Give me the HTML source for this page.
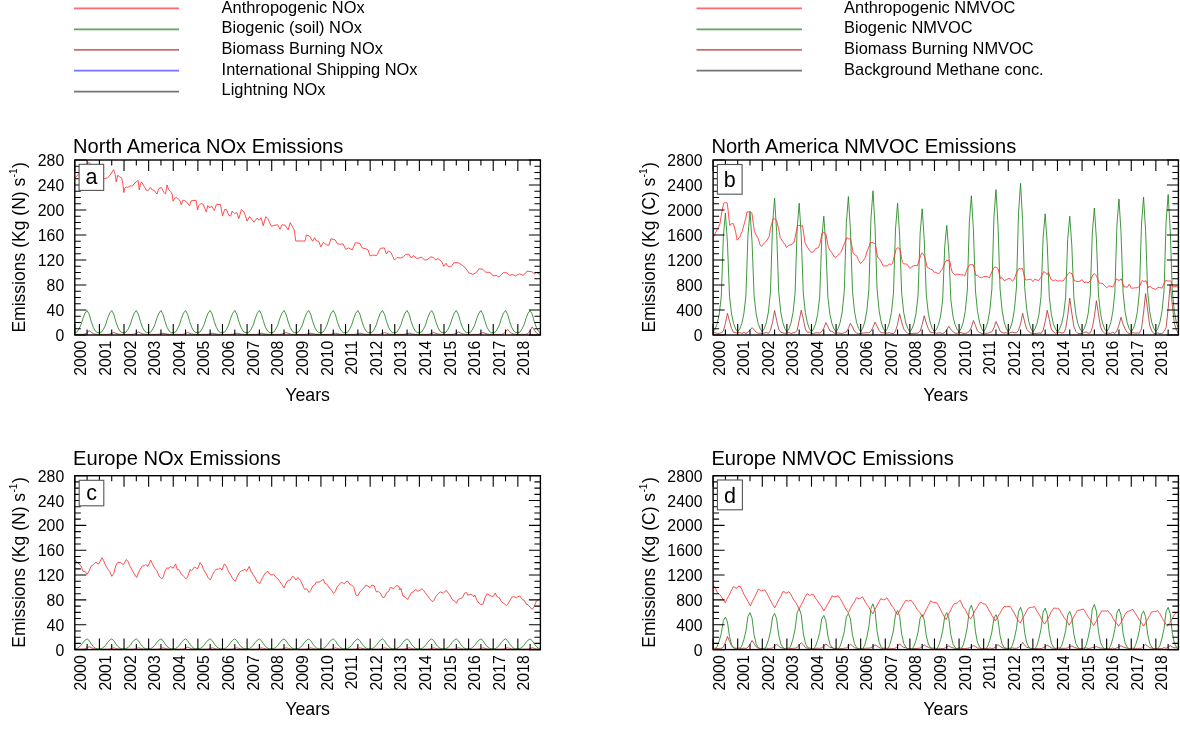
<!DOCTYPE html>
<html><head><meta charset="utf-8"><title>Emissions</title>
<style>
html,body{margin:0;padding:0;background:#fff;}
body{width:1180px;height:730px;overflow:hidden;}
svg{display:block;}
#wrap{width:1180px;height:730px;}
text{font-family:"Liberation Sans", Arial, Helvetica, sans-serif;fill:#000;}
.leg{font-size:16.4px;}
.ttl{font-size:20.1px;}
.tl{font-size:15.8px;}
.ax{font-size:17.8px;}
.sup{font-size:10px;}
.yl{font-size:17.55px;}
.let{font-size:21.5px;}
</style></head>
<body>
<div id="wrap"><svg width="1180" height="730" viewBox="0 0 1180 730">
<defs><clipPath id="clipa"><rect x="74.8" y="160.0" width="465.59999999999997" height="175.0"/></clipPath><clipPath id="clipb"><rect x="713.1" y="160.0" width="465.30000000000007" height="175.0"/></clipPath><clipPath id="clipc"><rect x="74.8" y="475.7" width="465.59999999999997" height="173.90000000000003"/></clipPath><clipPath id="clipd"><rect x="713.1" y="475.7" width="465.30000000000007" height="173.90000000000003"/></clipPath></defs>
<rect width="1180" height="730" fill="#fff"/>
<line x1="74" y1="8.4" x2="179" y2="8.4" stroke="#ff3030" stroke-width="1.7" opacity="0.72"/>
<text x="221.6" y="12.6" class="leg">Anthropogenic NOx</text>
<line x1="74" y1="29.3" x2="179" y2="29.3" stroke="#1f861f" stroke-width="1.7" opacity="0.72"/>
<text x="221.6" y="33.4" class="leg">Biogenic (soil) NOx</text>
<line x1="74" y1="49.9" x2="179" y2="49.9" stroke="#b03838" stroke-width="1.7" opacity="0.72"/>
<text x="221.6" y="53.8" class="leg">Biomass Burning NOx</text>
<line x1="74" y1="70.6" x2="179" y2="70.6" stroke="#3c3cff" stroke-width="1.7" opacity="0.72"/>
<text x="221.6" y="74.5" class="leg">International Shipping NOx</text>
<line x1="74" y1="91.7" x2="179" y2="91.7" stroke="#404040" stroke-width="1.7" opacity="0.72"/>
<text x="221.6" y="95.0" class="leg">Lightning NOx</text>
<line x1="696.5" y1="8.4" x2="802" y2="8.4" stroke="#ff3030" stroke-width="1.7" opacity="0.72"/>
<text x="844.1" y="12.6" class="leg">Anthropogenic NMVOC</text>
<line x1="696.5" y1="29.3" x2="802" y2="29.3" stroke="#1f861f" stroke-width="1.7" opacity="0.72"/>
<text x="844.1" y="33.4" class="leg">Biogenic NMVOC</text>
<line x1="696.5" y1="49.9" x2="802" y2="49.9" stroke="#b03838" stroke-width="1.7" opacity="0.72"/>
<text x="844.1" y="53.8" class="leg">Biomass Burning NMVOC</text>
<line x1="696.5" y1="70.6" x2="802" y2="70.6" stroke="#404040" stroke-width="1.7" opacity="0.72"/>
<text x="844.1" y="74.5" class="leg">Background Methane conc.</text>
<g clip-path="url(#clipa)">
<polyline points="74.80,334.38 76.85,334.38 78.90,334.38 80.95,334.38 83.00,334.38 85.06,333.93 87.11,332.50 89.16,330.62 91.21,332.12 93.26,333.62 95.31,334.19 97.36,334.38 99.41,334.38 101.46,334.38 103.52,334.38 105.57,334.38 107.62,334.38 109.67,334.15 111.72,333.44 113.77,332.50 115.82,333.25 117.87,334.00 119.92,334.28 121.98,334.38 124.03,334.38 126.08,334.38 128.13,334.38 130.18,334.38 132.23,334.38 134.28,334.07 136.33,333.12 138.38,331.88 140.44,332.88 142.49,333.88 144.54,334.25 146.59,334.38 148.64,334.38 150.69,334.38 152.74,334.38 154.79,334.38 156.84,334.38 158.90,334.23 160.95,333.75 163.00,333.12 165.05,333.62 167.10,334.12 169.15,334.31 171.20,334.38 173.25,334.38 175.30,334.38 177.36,334.38 179.41,334.38 181.46,334.38 183.51,334.15 185.56,333.44 187.61,332.50 189.66,333.25 191.71,334.00 193.76,334.28 195.81,334.38 197.87,334.38 199.92,334.38 201.97,334.38 204.02,334.38 206.07,334.38 208.12,334.23 210.17,333.75 212.22,333.12 214.27,333.62 216.33,334.12 218.38,334.31 220.43,334.38 222.48,334.38 224.53,334.38 226.58,334.38 228.63,334.38 230.68,334.38 232.73,334.23 234.79,333.75 236.84,333.12 238.89,333.62 240.94,334.12 242.99,334.31 245.04,334.38 247.09,334.38 249.14,334.38 251.19,334.38 253.25,334.38 255.30,334.38 257.35,334.23 259.40,333.75 261.45,333.12 263.50,333.62 265.55,334.12 267.60,334.31 269.65,334.38 271.71,334.38 273.76,334.38 275.81,334.38 277.86,334.38 279.91,334.38 281.96,334.15 284.01,333.44 286.06,332.50 288.11,333.25 290.17,334.00 292.22,334.28 294.27,334.38 296.32,334.38 298.37,334.38 300.42,334.38 302.47,334.38 304.52,334.38 306.57,334.23 308.63,333.75 310.68,333.12 312.73,333.62 314.78,334.12 316.83,334.31 318.88,334.38 320.93,334.38 322.98,334.38 325.03,334.38 327.09,334.38 329.14,334.38 331.19,334.23 333.24,333.75 335.29,333.12 337.34,333.62 339.39,334.12 341.44,334.31 343.49,334.38 345.55,334.38 347.60,334.38 349.65,334.38 351.70,334.38 353.75,334.38 355.80,334.23 357.85,333.75 359.90,333.12 361.95,333.62 364.01,334.12 366.06,334.31 368.11,334.38 370.16,334.38 372.21,334.38 374.26,334.38 376.31,334.38 378.36,334.38 380.41,334.15 382.47,333.44 384.52,332.50 386.57,333.25 388.62,334.00 390.67,334.28 392.72,334.38 394.77,334.38 396.82,334.38 398.87,334.38 400.93,334.38 402.98,334.38 405.03,334.23 407.08,333.75 409.13,333.12 411.18,333.62 413.23,334.12 415.28,334.31 417.33,334.38 419.39,334.38 421.44,334.38 423.49,334.38 425.54,334.38 427.59,334.38 429.64,334.15 431.69,333.44 433.74,332.50 435.79,333.25 437.84,334.00 439.90,334.28 441.95,334.38 444.00,334.38 446.05,334.38 448.10,334.38 450.15,334.38 452.20,334.38 454.25,334.07 456.30,333.12 458.36,331.88 460.41,332.88 462.46,333.88 464.51,334.25 466.56,334.38 468.61,334.38 470.66,334.38 472.71,334.38 474.76,334.38 476.82,334.38 478.87,334.15 480.92,333.44 482.97,332.50 485.02,333.25 487.07,334.00 489.12,334.28 491.17,334.38 493.22,334.38 495.28,334.38 497.33,334.38 499.38,334.38 501.43,334.38 503.48,333.77 505.53,331.88 507.58,329.38 509.63,331.38 511.68,333.38 513.74,334.12 515.79,334.38 517.84,334.38 519.89,334.38 521.94,334.38 523.99,334.38 526.04,334.38 528.09,333.48 530.14,330.62 532.20,326.88 534.25,329.88 536.30,332.88 538.35,334.00 540.40,334.38" fill="none" stroke="#b03838" stroke-width="1.0" stroke-linejoin="round" opacity="0.85"/>
<polyline points="74.80,332.62 76.85,332.18 78.90,329.08 80.95,324.88 83.00,318.24 85.06,313.15 87.11,310.50 89.16,314.26 91.21,321.56 93.26,327.31 95.31,331.08 97.36,332.62 99.41,332.62 101.46,332.18 103.52,329.08 105.57,324.88 107.62,318.24 109.67,313.15 111.72,310.50 113.77,314.26 115.82,321.56 117.87,327.31 119.92,331.08 121.98,332.62 124.03,332.62 126.08,332.18 128.13,329.08 130.18,324.88 132.23,318.24 134.28,313.15 136.33,310.50 138.38,314.26 140.44,321.56 142.49,327.31 144.54,331.08 146.59,332.62 148.64,332.62 150.69,332.18 152.74,329.08 154.79,324.88 156.84,318.24 158.90,313.15 160.95,310.50 163.00,314.26 165.05,321.56 167.10,327.31 169.15,331.08 171.20,332.62 173.25,332.62 175.30,332.18 177.36,329.08 179.41,324.88 181.46,318.24 183.51,313.15 185.56,310.50 187.61,314.26 189.66,321.56 191.71,327.31 193.76,331.08 195.81,332.62 197.87,332.62 199.92,332.18 201.97,329.08 204.02,324.88 206.07,318.24 208.12,313.15 210.17,310.50 212.22,314.26 214.27,321.56 216.33,327.31 218.38,331.08 220.43,332.62 222.48,332.62 224.53,332.18 226.58,329.08 228.63,324.88 230.68,318.24 232.73,313.15 234.79,310.50 236.84,314.26 238.89,321.56 240.94,327.31 242.99,331.08 245.04,332.62 247.09,332.62 249.14,332.18 251.19,329.08 253.25,324.88 255.30,318.24 257.35,313.15 259.40,310.50 261.45,314.26 263.50,321.56 265.55,327.31 267.60,331.08 269.65,332.62 271.71,332.62 273.76,332.18 275.81,329.08 277.86,324.88 279.91,318.24 281.96,313.15 284.01,310.50 286.06,314.26 288.11,321.56 290.17,327.31 292.22,331.08 294.27,332.62 296.32,332.62 298.37,332.18 300.42,329.08 302.47,324.88 304.52,318.24 306.57,313.15 308.63,310.50 310.68,314.26 312.73,321.56 314.78,327.31 316.83,331.08 318.88,332.62 320.93,332.62 322.98,332.18 325.03,329.08 327.09,324.88 329.14,318.24 331.19,313.15 333.24,310.50 335.29,314.26 337.34,321.56 339.39,327.31 341.44,331.08 343.49,332.62 345.55,332.62 347.60,332.18 349.65,329.08 351.70,324.88 353.75,318.24 355.80,313.15 357.85,310.50 359.90,314.26 361.95,321.56 364.01,327.31 366.06,331.08 368.11,332.62 370.16,332.62 372.21,332.18 374.26,329.08 376.31,324.88 378.36,318.24 380.41,313.15 382.47,310.50 384.52,314.26 386.57,321.56 388.62,327.31 390.67,331.08 392.72,332.62 394.77,332.62 396.82,332.18 398.87,329.08 400.93,324.88 402.98,318.24 405.03,313.15 407.08,310.50 409.13,314.26 411.18,321.56 413.23,327.31 415.28,331.08 417.33,332.62 419.39,332.62 421.44,332.18 423.49,329.08 425.54,324.88 427.59,318.24 429.64,313.15 431.69,310.50 433.74,314.26 435.79,321.56 437.84,327.31 439.90,331.08 441.95,332.62 444.00,332.62 446.05,332.18 448.10,329.08 450.15,324.88 452.20,318.24 454.25,313.15 456.30,310.50 458.36,314.26 460.41,321.56 462.46,327.31 464.51,331.08 466.56,332.62 468.61,332.62 470.66,332.18 472.71,329.08 474.76,324.88 476.82,318.24 478.87,313.15 480.92,310.50 482.97,314.26 485.02,321.56 487.07,327.31 489.12,331.08 491.17,332.62 493.22,332.62 495.28,332.18 497.33,329.08 499.38,324.88 501.43,318.24 503.48,313.15 505.53,310.50 507.58,314.26 509.63,321.56 511.68,327.31 513.74,331.08 515.79,332.62 517.84,332.62 519.89,332.18 521.94,329.08 523.99,324.88 526.04,318.24 528.09,313.15 530.14,310.50 532.20,314.26 534.25,321.56 536.30,327.31 538.35,331.08 540.40,332.62" fill="none" stroke="#1f861f" stroke-width="1.0" stroke-linejoin="round" opacity="0.85"/>
<polyline points="75.00,177.81 79.10,173.75 88.90,162.25 104.00,178.81 107.50,177.81 110.10,175.25 113.60,169.69 115.20,174.25 116.20,181.88 117.70,175.25 119.70,176.75 121.80,178.31 122.80,183.38 123.80,192.56 124.80,187.94 126.40,186.94 127.90,187.44 129.90,185.94 132.50,185.94 134.00,183.88 138.10,180.31 139.30,190.00 140.60,183.38 141.60,181.88 144.20,186.44 146.20,190.00 148.20,190.50 150.30,187.44 152.30,190.00 154.30,190.50 156.90,194.06 158.90,188.50 161.40,187.44 164.00,192.56 165.50,194.06 167.00,184.94 168.60,189.50 170.60,191.50 172.10,194.06 173.10,201.19 174.70,198.12 176.70,197.62 179.70,200.19 181.30,204.75 182.80,200.19 184.80,200.69 186.90,202.19 189.40,205.75 191.40,200.69 196.10,200.31 197.60,210.00 198.60,205.94 201.20,203.19 203.20,204.44 206.30,212.06 207.80,205.44 209.80,207.94 211.40,205.94 214.40,210.50 216.40,204.44 220.50,204.44 222.50,216.12 224.60,209.50 226.60,209.50 228.60,215.06 230.70,216.12 232.20,211.00 234.70,213.56 236.80,212.56 238.80,218.62 241.40,209.50 243.90,212.06 245.40,215.62 247.00,221.19 249.50,216.62 254.10,222.19 257.10,218.12 259.20,220.19 261.20,217.62 263.20,225.75 265.80,216.62 267.80,218.62 271.40,226.25 274.90,225.25 277.50,224.75 280.00,229.31 282.00,224.75 285.10,225.25 288.10,229.81 290.20,222.69 294.20,229.81 295.80,241.00 303.90,241.00 305.00,241.25 306.40,234.94 309.60,236.19 312.60,241.25 314.70,237.69 316.20,240.75 318.70,241.25 320.80,246.88 323.30,242.31 326.40,244.81 328.90,245.31 330.90,238.75 335.00,239.75 337.50,243.81 340.10,244.31 343.10,243.81 345.70,249.44 348.70,247.88 352.30,249.94 355.30,242.81 359.90,243.31 362.00,247.88 366.00,248.88 368.10,249.94 370.10,256.00 372.60,255.00 376.70,255.50 380.30,248.38 384.30,247.88 386.40,254.00 388.40,250.94 390.90,252.44 394.50,260.06 397.00,257.56 400.10,258.06 403.10,257.06 405.70,254.50 408.70,254.00 411.30,258.06 413.30,255.50 416.90,258.56 421.60,257.19 424.80,260.06 427.40,259.56 430.60,256.88 433.20,257.44 435.90,260.06 438.00,258.50 441.70,261.62 443.80,266.44 446.00,263.25 447.50,265.88 450.20,266.94 451.80,265.88 453.90,262.69 458.10,262.69 462.40,265.38 464.50,266.94 467.10,270.12 468.70,272.75 473.00,274.38 476.70,272.25 478.80,268.88 482.50,269.06 485.70,272.25 488.90,272.25 491.00,273.31 493.10,275.94 496.30,275.44 498.90,277.00 503.20,272.75 506.90,272.75 509.50,275.44 512.20,274.38 515.30,275.94 519.60,273.81 523.30,275.44 527.00,271.19 531.80,271.69 534.40,273.81 536.50,272.75 540.80,274.56" fill="none" stroke="#ff3030" stroke-width="1.0" stroke-linejoin="round" opacity="0.85"/>
</g>
<path d="M74.80,335.0v-11M74.80,160.0v11M87.11,335.0v-5.5M87.11,160.0v5.5M99.41,335.0v-11M99.41,160.0v11M111.72,335.0v-5.5M111.72,160.0v5.5M124.03,335.0v-11M124.03,160.0v11M136.33,335.0v-5.5M136.33,160.0v5.5M148.64,335.0v-11M148.64,160.0v11M160.95,335.0v-5.5M160.95,160.0v5.5M173.25,335.0v-11M173.25,160.0v11M185.56,335.0v-5.5M185.56,160.0v5.5M197.87,335.0v-11M197.87,160.0v11M210.17,335.0v-5.5M210.17,160.0v5.5M222.48,335.0v-11M222.48,160.0v11M234.79,335.0v-5.5M234.79,160.0v5.5M247.09,335.0v-11M247.09,160.0v11M259.40,335.0v-5.5M259.40,160.0v5.5M271.71,335.0v-11M271.71,160.0v11M284.01,335.0v-5.5M284.01,160.0v5.5M296.32,335.0v-11M296.32,160.0v11M308.63,335.0v-5.5M308.63,160.0v5.5M320.93,335.0v-11M320.93,160.0v11M333.24,335.0v-5.5M333.24,160.0v5.5M345.55,335.0v-11M345.55,160.0v11M357.85,335.0v-5.5M357.85,160.0v5.5M370.16,335.0v-11M370.16,160.0v11M382.47,335.0v-5.5M382.47,160.0v5.5M394.77,335.0v-11M394.77,160.0v11M407.08,335.0v-5.5M407.08,160.0v5.5M419.39,335.0v-11M419.39,160.0v11M431.69,335.0v-5.5M431.69,160.0v5.5M444.00,335.0v-11M444.00,160.0v11M456.30,335.0v-5.5M456.30,160.0v5.5M468.61,335.0v-11M468.61,160.0v11M480.92,335.0v-5.5M480.92,160.0v5.5M493.22,335.0v-11M493.22,160.0v11M505.53,335.0v-5.5M505.53,160.0v5.5M517.84,335.0v-11M517.84,160.0v11M530.14,335.0v-5.5M530.14,160.0v5.5M74.8,335.00h11.5M540.4,335.00h-11.5M74.8,328.75h6M540.4,328.75h-6M74.8,322.50h6M540.4,322.50h-6M74.8,316.25h6M540.4,316.25h-6M74.8,310.00h11.5M540.4,310.00h-11.5M74.8,303.75h6M540.4,303.75h-6M74.8,297.50h6M540.4,297.50h-6M74.8,291.25h6M540.4,291.25h-6M74.8,285.00h11.5M540.4,285.00h-11.5M74.8,278.75h6M540.4,278.75h-6M74.8,272.50h6M540.4,272.50h-6M74.8,266.25h6M540.4,266.25h-6M74.8,260.00h11.5M540.4,260.00h-11.5M74.8,253.75h6M540.4,253.75h-6M74.8,247.50h6M540.4,247.50h-6M74.8,241.25h6M540.4,241.25h-6M74.8,235.00h11.5M540.4,235.00h-11.5M74.8,228.75h6M540.4,228.75h-6M74.8,222.50h6M540.4,222.50h-6M74.8,216.25h6M540.4,216.25h-6M74.8,210.00h11.5M540.4,210.00h-11.5M74.8,203.75h6M540.4,203.75h-6M74.8,197.50h6M540.4,197.50h-6M74.8,191.25h6M540.4,191.25h-6M74.8,185.00h11.5M540.4,185.00h-11.5M74.8,178.75h6M540.4,178.75h-6M74.8,172.50h6M540.4,172.50h-6M74.8,166.25h6M540.4,166.25h-6M74.8,160.00h11.5M540.4,160.00h-11.5" stroke="#000" stroke-width="1.1" fill="none"/>
<rect x="74.8" y="160.0" width="465.59999999999997" height="175.0" fill="none" stroke="#000" stroke-width="1.4"/>
<rect x="79.1" y="164.3" width="24.60" height="26.10" fill="#fff" stroke="#555" stroke-width="1.1"/>
<text x="91.40" y="183.8" class="let" text-anchor="middle">a</text>
<text x="73.10" y="153.4" class="ttl">North America NOx Emissions</text>
<text x="64.20" y="341.00" class="tl" text-anchor="end">0</text>
<text x="64.20" y="316.00" class="tl" text-anchor="end">40</text>
<text x="64.20" y="291.00" class="tl" text-anchor="end">80</text>
<text x="64.20" y="266.00" class="tl" text-anchor="end">120</text>
<text x="64.20" y="241.00" class="tl" text-anchor="end">160</text>
<text x="64.20" y="216.00" class="tl" text-anchor="end">200</text>
<text x="64.20" y="191.00" class="tl" text-anchor="end">240</text>
<text x="64.20" y="166.00" class="tl" text-anchor="end">280</text>
<text transform="translate(86.40,340.70) rotate(-90)" class="tl" text-anchor="end">2000</text>
<text transform="translate(111.01,340.70) rotate(-90)" class="tl" text-anchor="end">2001</text>
<text transform="translate(135.63,340.70) rotate(-90)" class="tl" text-anchor="end">2002</text>
<text transform="translate(160.24,340.70) rotate(-90)" class="tl" text-anchor="end">2003</text>
<text transform="translate(184.85,340.70) rotate(-90)" class="tl" text-anchor="end">2004</text>
<text transform="translate(209.47,340.70) rotate(-90)" class="tl" text-anchor="end">2005</text>
<text transform="translate(234.08,340.70) rotate(-90)" class="tl" text-anchor="end">2006</text>
<text transform="translate(258.69,340.70) rotate(-90)" class="tl" text-anchor="end">2007</text>
<text transform="translate(283.31,340.70) rotate(-90)" class="tl" text-anchor="end">2008</text>
<text transform="translate(307.92,340.70) rotate(-90)" class="tl" text-anchor="end">2009</text>
<text transform="translate(332.53,340.70) rotate(-90)" class="tl" text-anchor="end">2010</text>
<text transform="translate(357.15,340.70) rotate(-90)" class="tl" text-anchor="end">2011</text>
<text transform="translate(381.76,340.70) rotate(-90)" class="tl" text-anchor="end">2012</text>
<text transform="translate(406.37,340.70) rotate(-90)" class="tl" text-anchor="end">2013</text>
<text transform="translate(430.99,340.70) rotate(-90)" class="tl" text-anchor="end">2014</text>
<text transform="translate(455.60,340.70) rotate(-90)" class="tl" text-anchor="end">2015</text>
<text transform="translate(480.21,340.70) rotate(-90)" class="tl" text-anchor="end">2016</text>
<text transform="translate(504.82,340.70) rotate(-90)" class="tl" text-anchor="end">2017</text>
<text transform="translate(529.44,340.70) rotate(-90)" class="tl" text-anchor="end">2018</text>
<text x="307.60" y="400.60" class="ax" text-anchor="middle">Years</text>
<text transform="translate(25.20,247.35) rotate(-90)" class="ax yl" text-anchor="middle">Emissions (Kg (N) s<tspan class="sup" dx="0.3" dy="-8.5">-1</tspan><tspan dx="0.6" dy="8.5">)</tspan></text>
<g clip-path="url(#clipb)">
<polyline points="713.10,333.02 715.15,332.63 717.20,333.44 719.25,333.31 721.30,332.77 723.35,331.18 725.40,323.37 727.45,313.35 729.50,321.25 731.55,328.46 733.60,332.44 735.65,332.70 737.70,332.91 739.75,332.42 741.80,333.47 743.85,332.33 745.90,333.56 747.95,332.08 750.00,330.34 752.05,327.63 754.10,329.72 756.15,332.08 758.20,333.30 760.24,333.18 762.29,333.32 764.34,333.00 766.39,332.39 768.44,333.43 770.49,330.23 772.54,322.43 774.59,310.53 776.64,320.33 778.69,329.17 780.74,332.29 782.79,332.84 784.84,333.33 786.89,332.81 788.94,332.61 790.99,333.46 793.04,332.79 795.09,332.75 797.14,330.31 799.19,320.56 801.24,310.30 803.29,318.92 805.34,328.98 807.39,332.44 809.44,332.13 811.49,333.45 813.54,333.43 815.59,332.90 817.64,332.74 819.69,333.07 821.74,331.56 823.79,328.22 825.84,322.68 827.89,326.35 829.94,331.14 831.99,331.29 834.04,333.14 836.09,332.99 838.14,332.99 840.19,333.17 842.24,333.57 844.29,332.61 846.34,332.09 848.39,328.33 850.44,323.30 852.49,326.98 854.53,331.29 856.58,333.00 858.63,333.44 860.68,333.55 862.73,332.98 864.78,332.95 866.83,332.65 868.88,332.72 870.93,331.31 872.98,327.27 875.03,322.10 877.08,326.15 879.13,330.52 881.18,332.75 883.23,332.83 885.28,332.67 887.33,333.16 889.38,332.73 891.43,333.38 893.48,333.62 895.53,331.04 897.58,324.21 899.63,313.87 901.68,321.99 903.73,328.93 905.78,331.31 907.83,333.47 909.88,333.36 911.93,333.43 913.98,333.28 916.03,333.27 918.08,333.08 920.13,331.14 922.18,324.75 924.23,315.84 926.28,323.05 928.33,328.70 930.38,332.39 932.43,332.44 934.48,332.32 936.53,333.36 938.58,332.92 940.63,332.94 942.68,333.61 944.73,332.37 946.77,329.84 948.82,326.25 950.87,329.61 952.92,331.50 954.97,333.05 957.02,333.31 959.07,332.22 961.12,332.71 963.17,333.43 965.22,333.40 967.27,332.83 969.32,331.32 971.37,327.21 973.42,320.49 975.47,325.54 977.52,331.02 979.57,332.44 981.62,333.40 983.67,332.97 985.72,333.28 987.77,333.26 989.82,332.26 991.87,331.78 993.92,327.78 995.97,321.59 998.02,326.04 1000.07,331.07 1002.12,332.46 1004.17,333.15 1006.22,332.46 1008.27,333.62 1010.32,332.53 1012.37,332.16 1014.42,332.81 1016.47,332.83 1018.52,330.32 1020.57,324.13 1022.62,313.33 1024.67,321.95 1026.72,329.46 1028.77,331.48 1030.82,333.03 1032.87,333.43 1034.92,333.42 1036.97,333.34 1039.01,332.94 1041.06,333.46 1043.11,330.10 1045.16,321.84 1047.21,310.30 1049.26,319.19 1051.31,329.01 1053.36,331.96 1055.41,333.15 1057.46,332.37 1059.51,332.16 1061.56,332.94 1063.61,332.89 1065.66,328.89 1067.71,315.74 1069.76,298.08 1071.81,312.96 1073.86,326.58 1075.91,331.45 1077.96,333.53 1080.01,333.45 1082.06,333.58 1084.11,332.24 1086.16,332.01 1088.21,333.23 1090.26,332.93 1092.31,327.71 1094.36,316.64 1096.41,300.69 1098.46,314.10 1100.51,326.76 1102.56,331.23 1104.61,333.33 1106.66,332.97 1108.71,333.25 1110.76,333.44 1112.81,332.22 1114.86,333.61 1116.91,330.79 1118.96,325.22 1121.01,317.29 1123.06,324.07 1125.11,329.00 1127.16,332.43 1129.21,333.62 1131.26,332.73 1133.30,332.86 1135.35,333.12 1137.40,333.03 1139.45,333.10 1141.50,328.83 1143.55,312.92 1145.60,293.58 1147.65,309.73 1149.70,325.63 1151.75,330.83 1153.80,333.52 1155.85,333.55 1157.90,332.98 1159.95,333.62 1162.00,333.56 1164.05,331.54 1166.10,327.71 1168.15,308.61 1170.20,284.51 1172.25,304.61 1174.30,323.12 1176.35,329.59 1178.40,333.55" fill="none" stroke="#b03838" stroke-width="1.0" stroke-linejoin="round" opacity="0.85"/>
<polyline points="713.10,331.88 715.15,328.90 717.20,323.55 719.25,314.04 721.30,296.21 723.35,236.78 725.40,213.00 727.45,242.72 729.50,296.21 731.55,314.04 733.60,323.55 735.65,328.90 737.70,331.88 739.75,328.87 741.80,323.47 743.85,313.87 745.90,295.86 747.95,235.82 750.00,211.81 752.05,241.83 754.10,295.86 756.15,313.87 758.20,323.47 760.24,328.87 762.29,331.88 764.34,328.53 766.39,322.52 768.44,311.82 770.49,291.77 772.54,224.93 774.59,198.19 776.64,231.61 778.69,291.77 780.74,311.82 782.79,322.52 784.84,328.53 786.89,331.88 788.94,328.66 790.99,322.87 793.04,312.57 795.09,293.27 797.14,228.93 799.19,203.19 801.24,235.36 803.29,293.27 805.34,312.57 807.39,322.87 809.44,328.66 811.49,331.88 813.54,328.98 815.59,323.78 817.64,314.52 819.69,297.17 821.74,239.32 823.79,216.19 825.84,245.11 827.89,297.17 829.94,314.52 831.99,323.78 834.04,328.98 836.09,331.88 838.14,328.49 840.19,322.40 842.24,311.57 844.29,291.26 846.34,223.57 848.39,196.50 850.44,230.34 852.49,291.26 854.53,311.57 856.58,322.40 858.63,328.49 860.68,331.88 862.73,328.35 864.78,322.00 866.83,310.72 868.88,289.56 870.93,219.03 872.98,190.81 875.03,226.08 877.08,289.56 879.13,310.72 881.18,322.00 883.23,328.35 885.28,331.88 887.33,328.66 889.38,322.87 891.43,312.57 893.48,293.27 895.53,228.93 897.58,203.19 899.63,235.36 901.68,293.27 903.73,312.57 905.78,322.87 907.83,328.66 909.88,331.88 911.93,328.80 913.98,323.26 916.03,313.42 918.08,294.96 920.13,233.43 922.18,208.81 924.23,239.58 926.28,294.96 928.33,313.42 930.38,323.26 932.43,328.80 934.48,331.88 936.53,329.21 938.58,324.42 940.63,315.90 942.68,299.93 944.73,246.68 946.77,225.38 948.82,252.00 950.87,299.93 952.92,315.90 954.97,324.42 957.02,329.21 959.07,331.88 961.12,328.47 963.17,322.35 965.22,311.47 967.27,291.06 969.32,223.03 971.37,195.81 973.42,229.83 975.47,291.06 977.52,311.47 979.57,322.35 981.62,328.47 983.67,331.88 985.72,328.32 987.77,321.92 989.82,310.54 991.87,289.20 993.92,218.07 995.97,189.62 998.02,225.19 1000.07,289.20 1002.12,310.54 1004.17,321.92 1006.22,328.32 1008.27,331.88 1010.32,328.16 1012.37,321.48 1014.42,309.60 1016.47,287.32 1018.52,213.07 1020.57,183.38 1022.62,220.50 1024.67,287.32 1026.72,309.60 1028.77,321.48 1030.82,328.16 1032.87,331.88 1034.92,328.92 1036.97,323.61 1039.01,314.17 1041.06,296.46 1043.11,237.43 1045.16,213.81 1047.21,243.33 1049.26,296.46 1051.31,314.17 1053.36,323.61 1055.41,328.92 1057.46,331.88 1059.51,328.98 1061.56,323.78 1063.61,314.53 1065.66,297.19 1067.71,239.38 1069.76,216.25 1071.81,245.16 1073.86,297.19 1075.91,314.53 1077.96,323.78 1080.01,328.98 1082.06,331.88 1084.11,328.78 1086.16,323.21 1088.21,313.31 1090.26,294.75 1092.31,232.88 1094.36,208.12 1096.41,239.06 1098.46,294.75 1100.51,313.31 1102.56,323.21 1104.61,328.78 1106.66,331.88 1108.71,328.55 1110.76,322.57 1112.81,311.94 1114.86,292.01 1116.91,225.57 1118.96,199.00 1121.01,232.22 1123.06,292.01 1125.11,311.94 1127.16,322.57 1129.21,328.55 1131.26,331.88 1133.30,328.50 1135.35,322.43 1137.40,311.64 1139.45,291.41 1141.50,223.97 1143.55,197.00 1145.60,230.72 1147.65,291.41 1149.70,311.64 1151.75,322.43 1153.80,328.50 1155.85,331.88 1157.90,328.44 1159.95,322.26 1162.00,311.27 1164.05,290.66 1166.10,221.97 1168.15,194.50 1170.20,228.84 1172.25,290.66 1174.30,311.27 1176.35,322.26 1178.40,328.44" fill="none" stroke="#1f861f" stroke-width="1.0" stroke-linejoin="round" opacity="0.85"/>
<polyline points="713.00,237.50 714.90,234.00 717.20,229.47 719.90,224.12 721.30,215.03 723.60,203.19 725.40,202.35 727.30,203.19 729.70,225.38 731.55,223.69 733.40,223.62 735.65,231.86 737.10,240.19 739.75,236.98 742.10,231.56 743.85,225.23 745.90,217.75 747.00,211.81 747.95,212.18 750.00,211.45 751.90,213.06 754.40,231.56 756.15,235.07 758.20,238.57 760.24,245.36 761.80,246.31 764.34,242.75 766.39,241.20 769.20,236.44 770.49,228.41 772.90,219.19 774.59,218.76 776.60,220.44 778.69,229.13 780.30,237.69 782.79,241.72 784.84,244.23 786.50,247.56 788.94,245.19 790.99,244.95 793.90,242.62 795.09,237.63 797.60,225.38 799.19,225.50 801.24,226.06 802.50,225.38 805.00,242.62 807.39,247.16 809.44,250.13 811.10,252.50 813.54,251.69 815.59,248.64 818.50,247.56 819.69,244.60 822.20,232.75 823.79,232.36 825.90,234.00 828.40,247.56 829.94,250.32 831.99,252.96 834.04,256.60 835.80,257.44 838.14,255.25 840.70,252.50 842.24,249.11 844.29,243.72 846.90,237.69 848.39,238.79 850.60,238.94 853.10,252.50 854.53,254.55 856.58,255.69 858.63,260.36 860.50,263.62 862.73,261.45 865.40,257.44 866.83,252.03 868.88,247.05 870.30,242.62 872.98,242.63 875.30,243.88 877.70,257.44 879.13,258.42 881.18,261.94 883.23,266.06 885.10,266.06 887.33,265.72 889.38,264.03 891.43,264.40 892.50,263.62 893.48,259.21 896.20,248.81 897.58,247.71 899.90,248.81 902.40,262.38 903.73,264.09 905.78,263.79 907.83,265.04 909.80,268.50 911.93,266.58 913.98,265.81 916.03,265.21 917.20,266.06 920.90,254.94 922.18,252.83 924.60,256.19 927.10,267.31 928.33,267.81 930.38,269.19 932.43,269.69 934.48,272.57 935.70,272.25 938.58,274.00 940.00,272.25 942.68,268.23 944.73,262.97 946.20,260.62 948.82,260.45 949.90,261.12 950.87,267.37 952.30,272.25 954.97,275.16 957.02,274.01 959.07,274.48 961.12,274.93 963.17,274.73 964.70,275.94 967.27,268.71 969.60,264.81 971.37,264.55 973.30,264.81 975.80,275.44 977.52,275.06 979.57,277.35 981.62,277.81 983.67,276.59 985.72,276.48 987.77,276.78 989.30,277.88 991.87,271.78 994.30,267.31 995.97,266.97 998.00,268.50 1000.40,278.38 1002.12,277.62 1004.17,280.69 1006.22,279.74 1008.27,278.59 1010.32,278.62 1012.37,281.18 1014.00,279.62 1016.47,272.70 1018.90,268.50 1020.57,268.99 1022.60,268.50 1025.10,279.62 1026.72,279.98 1028.77,279.52 1030.82,279.10 1032.87,281.67 1034.92,279.05 1036.97,280.19 1038.70,280.38 1041.06,277.08 1043.60,271.75 1045.16,272.22 1047.21,274.58 1048.50,272.25 1051.00,279.62 1053.36,280.59 1055.41,279.87 1057.46,281.08 1059.51,280.86 1061.56,280.86 1063.30,280.88 1065.66,277.31 1068.30,273.44 1069.76,272.49 1072.00,273.94 1074.40,280.88 1075.91,281.12 1077.96,281.67 1080.01,281.07 1082.06,279.63 1084.11,282.64 1086.16,281.97 1088.00,282.81 1090.26,280.84 1092.90,274.69 1094.36,273.67 1096.60,275.94 1099.10,283.31 1100.51,283.17 1102.56,283.30 1104.61,285.74 1106.66,287.73 1107.70,287.00 1108.71,286.00 1110.76,286.15 1112.70,287.00 1114.86,283.24 1116.40,278.88 1118.96,280.53 1121.30,278.88 1123.80,287.00 1125.11,286.57 1127.16,287.38 1129.21,284.36 1131.26,288.11 1133.30,288.12 1135.35,287.77 1137.30,287.75 1139.45,286.45 1142.30,280.38 1143.55,281.54 1146.00,280.88 1148.40,287.75 1149.70,285.95 1151.75,288.02 1153.80,288.63 1155.85,289.45 1157.90,287.45 1159.95,287.43 1162.00,288.25 1164.05,283.60 1165.70,280.38 1168.15,281.06 1170.60,280.88 1173.10,287.00 1174.30,286.66 1176.35,286.57 1178.40,287.77 1180.00,287.00" fill="none" stroke="#ff3030" stroke-width="1.0" stroke-linejoin="round" opacity="0.85"/>
</g>
<path d="M713.10,335.0v-11M713.10,160.0v11M725.40,335.0v-5.5M725.40,160.0v5.5M737.70,335.0v-11M737.70,160.0v11M750.00,335.0v-5.5M750.00,160.0v5.5M762.29,335.0v-11M762.29,160.0v11M774.59,335.0v-5.5M774.59,160.0v5.5M786.89,335.0v-11M786.89,160.0v11M799.19,335.0v-5.5M799.19,160.0v5.5M811.49,335.0v-11M811.49,160.0v11M823.79,335.0v-5.5M823.79,160.0v5.5M836.09,335.0v-11M836.09,160.0v11M848.39,335.0v-5.5M848.39,160.0v5.5M860.68,335.0v-11M860.68,160.0v11M872.98,335.0v-5.5M872.98,160.0v5.5M885.28,335.0v-11M885.28,160.0v11M897.58,335.0v-5.5M897.58,160.0v5.5M909.88,335.0v-11M909.88,160.0v11M922.18,335.0v-5.5M922.18,160.0v5.5M934.48,335.0v-11M934.48,160.0v11M946.77,335.0v-5.5M946.77,160.0v5.5M959.07,335.0v-11M959.07,160.0v11M971.37,335.0v-5.5M971.37,160.0v5.5M983.67,335.0v-11M983.67,160.0v11M995.97,335.0v-5.5M995.97,160.0v5.5M1008.27,335.0v-11M1008.27,160.0v11M1020.57,335.0v-5.5M1020.57,160.0v5.5M1032.87,335.0v-11M1032.87,160.0v11M1045.16,335.0v-5.5M1045.16,160.0v5.5M1057.46,335.0v-11M1057.46,160.0v11M1069.76,335.0v-5.5M1069.76,160.0v5.5M1082.06,335.0v-11M1082.06,160.0v11M1094.36,335.0v-5.5M1094.36,160.0v5.5M1106.66,335.0v-11M1106.66,160.0v11M1118.96,335.0v-5.5M1118.96,160.0v5.5M1131.26,335.0v-11M1131.26,160.0v11M1143.55,335.0v-5.5M1143.55,160.0v5.5M1155.85,335.0v-11M1155.85,160.0v11M1168.15,335.0v-5.5M1168.15,160.0v5.5M713.1,335.00h11.5M1178.4,335.00h-11.5M713.1,328.75h6M1178.4,328.75h-6M713.1,322.50h6M1178.4,322.50h-6M713.1,316.25h6M1178.4,316.25h-6M713.1,310.00h11.5M1178.4,310.00h-11.5M713.1,303.75h6M1178.4,303.75h-6M713.1,297.50h6M1178.4,297.50h-6M713.1,291.25h6M1178.4,291.25h-6M713.1,285.00h11.5M1178.4,285.00h-11.5M713.1,278.75h6M1178.4,278.75h-6M713.1,272.50h6M1178.4,272.50h-6M713.1,266.25h6M1178.4,266.25h-6M713.1,260.00h11.5M1178.4,260.00h-11.5M713.1,253.75h6M1178.4,253.75h-6M713.1,247.50h6M1178.4,247.50h-6M713.1,241.25h6M1178.4,241.25h-6M713.1,235.00h11.5M1178.4,235.00h-11.5M713.1,228.75h6M1178.4,228.75h-6M713.1,222.50h6M1178.4,222.50h-6M713.1,216.25h6M1178.4,216.25h-6M713.1,210.00h11.5M1178.4,210.00h-11.5M713.1,203.75h6M1178.4,203.75h-6M713.1,197.50h6M1178.4,197.50h-6M713.1,191.25h6M1178.4,191.25h-6M713.1,185.00h11.5M1178.4,185.00h-11.5M713.1,178.75h6M1178.4,178.75h-6M713.1,172.50h6M1178.4,172.50h-6M713.1,166.25h6M1178.4,166.25h-6M713.1,160.00h11.5M1178.4,160.00h-11.5" stroke="#000" stroke-width="1.1" fill="none"/>
<rect x="713.1" y="160.0" width="465.30000000000007" height="175.0" fill="none" stroke="#000" stroke-width="1.4"/>
<rect x="717.4" y="164.5" width="24.70" height="29.70" fill="#fff" stroke="#555" stroke-width="1.1"/>
<text x="729.75" y="187.0" class="let" text-anchor="middle">b</text>
<text x="711.40" y="153.4" class="ttl">North America NMVOC Emissions</text>
<text x="702.50" y="341.00" class="tl" text-anchor="end">0</text>
<text x="702.50" y="316.00" class="tl" text-anchor="end">400</text>
<text x="702.50" y="291.00" class="tl" text-anchor="end">800</text>
<text x="702.50" y="266.00" class="tl" text-anchor="end">1200</text>
<text x="702.50" y="241.00" class="tl" text-anchor="end">1600</text>
<text x="702.50" y="216.00" class="tl" text-anchor="end">2000</text>
<text x="702.50" y="191.00" class="tl" text-anchor="end">2400</text>
<text x="702.50" y="166.00" class="tl" text-anchor="end">2800</text>
<text transform="translate(724.70,340.70) rotate(-90)" class="tl" text-anchor="end">2000</text>
<text transform="translate(749.30,340.70) rotate(-90)" class="tl" text-anchor="end">2001</text>
<text transform="translate(773.89,340.70) rotate(-90)" class="tl" text-anchor="end">2002</text>
<text transform="translate(798.49,340.70) rotate(-90)" class="tl" text-anchor="end">2003</text>
<text transform="translate(823.09,340.70) rotate(-90)" class="tl" text-anchor="end">2004</text>
<text transform="translate(847.69,340.70) rotate(-90)" class="tl" text-anchor="end">2005</text>
<text transform="translate(872.28,340.70) rotate(-90)" class="tl" text-anchor="end">2006</text>
<text transform="translate(896.88,340.70) rotate(-90)" class="tl" text-anchor="end">2007</text>
<text transform="translate(921.48,340.70) rotate(-90)" class="tl" text-anchor="end">2008</text>
<text transform="translate(946.08,340.70) rotate(-90)" class="tl" text-anchor="end">2009</text>
<text transform="translate(970.67,340.70) rotate(-90)" class="tl" text-anchor="end">2010</text>
<text transform="translate(995.27,340.70) rotate(-90)" class="tl" text-anchor="end">2011</text>
<text transform="translate(1019.87,340.70) rotate(-90)" class="tl" text-anchor="end">2012</text>
<text transform="translate(1044.47,340.70) rotate(-90)" class="tl" text-anchor="end">2013</text>
<text transform="translate(1069.06,340.70) rotate(-90)" class="tl" text-anchor="end">2014</text>
<text transform="translate(1093.66,340.70) rotate(-90)" class="tl" text-anchor="end">2015</text>
<text transform="translate(1118.26,340.70) rotate(-90)" class="tl" text-anchor="end">2016</text>
<text transform="translate(1142.86,340.70) rotate(-90)" class="tl" text-anchor="end">2017</text>
<text transform="translate(1167.45,340.70) rotate(-90)" class="tl" text-anchor="end">2018</text>
<text x="945.75" y="400.60" class="ax" text-anchor="middle">Years</text>
<text transform="translate(655.40,247.35) rotate(-90)" class="ax yl" text-anchor="middle">Emissions (Kg (C) s<tspan class="sup" dx="0.3" dy="-8.5">-1</tspan><tspan dx="0.6" dy="8.5">)</tspan></text>
<g clip-path="url(#clipc)">
<polyline points="74.80,649.10 76.85,649.10 78.90,649.10 80.95,649.10 83.00,649.10 85.06,648.81 87.11,647.86 89.16,646.62 91.21,647.61 93.26,648.61 95.31,648.98 97.36,649.10 99.41,649.10 101.46,649.10 103.52,649.10 105.57,649.10 107.62,649.10 109.67,648.95 111.72,648.48 113.77,647.86 115.82,648.36 117.87,648.85 119.92,649.04 121.98,649.10 124.03,649.10 126.08,649.10 128.13,649.10 130.18,649.10 132.23,649.10 134.28,648.95 136.33,648.48 138.38,647.86 140.44,648.36 142.49,648.85 144.54,649.04 146.59,649.10 148.64,649.10 150.69,649.10 152.74,649.10 154.79,649.10 156.84,649.10 158.90,648.95 160.95,648.48 163.00,647.86 165.05,648.36 167.10,648.85 169.15,649.04 171.20,649.10 173.25,649.10 175.30,649.10 177.36,649.10 179.41,649.10 181.46,649.10 183.51,648.88 185.56,648.17 187.61,647.24 189.66,647.99 191.71,648.73 193.76,649.01 195.81,649.10 197.87,649.10 199.92,649.10 201.97,649.10 204.02,649.10 206.07,649.10 208.12,648.95 210.17,648.48 212.22,647.86 214.27,648.36 216.33,648.85 218.38,649.04 220.43,649.10 222.48,649.10 224.53,649.10 226.58,649.10 228.63,649.10 230.68,649.10 232.73,648.95 234.79,648.48 236.84,647.86 238.89,648.36 240.94,648.85 242.99,649.04 245.04,649.10 247.09,649.10 249.14,649.10 251.19,649.10 253.25,649.10 255.30,649.10 257.35,648.95 259.40,648.48 261.45,647.86 263.50,648.36 265.55,648.85 267.60,649.04 269.65,649.10 271.71,649.10 273.76,649.10 275.81,649.10 277.86,649.10 279.91,649.10 281.96,648.95 284.01,648.48 286.06,647.86 288.11,648.36 290.17,648.85 292.22,649.04 294.27,649.10 296.32,649.10 298.37,649.10 300.42,649.10 302.47,649.10 304.52,649.10 306.57,648.95 308.63,648.48 310.68,647.86 312.73,648.36 314.78,648.85 316.83,649.04 318.88,649.10 320.93,649.10 322.98,649.10 325.03,649.10 327.09,649.10 329.14,649.10 331.19,648.95 333.24,648.48 335.29,647.86 337.34,648.36 339.39,648.85 341.44,649.04 343.49,649.10 345.55,649.10 347.60,649.10 349.65,649.10 351.70,649.10 353.75,649.10 355.80,648.95 357.85,648.48 359.90,647.86 361.95,648.36 364.01,648.85 366.06,649.04 368.11,649.10 370.16,649.10 372.21,649.10 374.26,649.10 376.31,649.10 378.36,649.10 380.41,648.95 382.47,648.48 384.52,647.86 386.57,648.36 388.62,648.85 390.67,649.04 392.72,649.10 394.77,649.10 396.82,649.10 398.87,649.10 400.93,649.10 402.98,649.10 405.03,648.95 407.08,648.48 409.13,647.86 411.18,648.36 413.23,648.85 415.28,649.04 417.33,649.10 419.39,649.10 421.44,649.10 423.49,649.10 425.54,649.10 427.59,649.10 429.64,648.95 431.69,648.48 433.74,647.86 435.79,648.36 437.84,648.85 439.90,649.04 441.95,649.10 444.00,649.10 446.05,649.10 448.10,649.10 450.15,649.10 452.20,649.10 454.25,648.95 456.30,648.48 458.36,647.86 460.41,648.36 462.46,648.85 464.51,649.04 466.56,649.10 468.61,649.10 470.66,649.10 472.71,649.10 474.76,649.10 476.82,649.10 478.87,648.95 480.92,648.48 482.97,647.86 485.02,648.36 487.07,648.85 489.12,649.04 491.17,649.10 493.22,649.10 495.28,649.10 497.33,649.10 499.38,649.10 501.43,649.10 503.48,648.95 505.53,648.48 507.58,647.86 509.63,648.36 511.68,648.85 513.74,649.04 515.79,649.10 517.84,649.10 519.89,649.10 521.94,649.10 523.99,649.10 526.04,649.10 528.09,648.95 530.14,648.48 532.20,647.86 534.25,648.36 536.30,648.85 538.35,649.04 540.40,649.10" fill="none" stroke="#b03838" stroke-width="1.0" stroke-linejoin="round" opacity="0.85"/>
<polyline points="74.80,648.85 76.85,648.66 78.90,647.26 80.95,645.38 83.00,642.40 85.06,640.11 87.11,638.92 89.16,640.61 91.21,643.89 93.26,646.47 95.31,648.16 97.36,648.85 99.41,648.85 101.46,648.66 103.52,647.26 105.57,645.38 107.62,642.40 109.67,640.11 111.72,638.92 113.77,640.61 115.82,643.89 117.87,646.47 119.92,648.16 121.98,648.85 124.03,648.85 126.08,648.66 128.13,647.26 130.18,645.38 132.23,642.40 134.28,640.11 136.33,638.92 138.38,640.61 140.44,643.89 142.49,646.47 144.54,648.16 146.59,648.85 148.64,648.85 150.69,648.66 152.74,647.26 154.79,645.38 156.84,642.40 158.90,640.11 160.95,638.92 163.00,640.61 165.05,643.89 167.10,646.47 169.15,648.16 171.20,648.85 173.25,648.85 175.30,648.66 177.36,647.26 179.41,645.38 181.46,642.40 183.51,640.11 185.56,638.92 187.61,640.61 189.66,643.89 191.71,646.47 193.76,648.16 195.81,648.85 197.87,648.85 199.92,648.66 201.97,647.26 204.02,645.38 206.07,642.40 208.12,640.11 210.17,638.92 212.22,640.61 214.27,643.89 216.33,646.47 218.38,648.16 220.43,648.85 222.48,648.85 224.53,648.66 226.58,647.26 228.63,645.38 230.68,642.40 232.73,640.11 234.79,638.92 236.84,640.61 238.89,643.89 240.94,646.47 242.99,648.16 245.04,648.85 247.09,648.85 249.14,648.66 251.19,647.26 253.25,645.38 255.30,642.40 257.35,640.11 259.40,638.92 261.45,640.61 263.50,643.89 265.55,646.47 267.60,648.16 269.65,648.85 271.71,648.85 273.76,648.66 275.81,647.26 277.86,645.38 279.91,642.40 281.96,640.11 284.01,638.92 286.06,640.61 288.11,643.89 290.17,646.47 292.22,648.16 294.27,648.85 296.32,648.85 298.37,648.66 300.42,647.26 302.47,645.38 304.52,642.40 306.57,640.11 308.63,638.92 310.68,640.61 312.73,643.89 314.78,646.47 316.83,648.16 318.88,648.85 320.93,648.85 322.98,648.66 325.03,647.26 327.09,645.38 329.14,642.40 331.19,640.11 333.24,638.92 335.29,640.61 337.34,643.89 339.39,646.47 341.44,648.16 343.49,648.85 345.55,648.85 347.60,648.66 349.65,647.26 351.70,645.38 353.75,642.40 355.80,640.11 357.85,638.92 359.90,640.61 361.95,643.89 364.01,646.47 366.06,648.16 368.11,648.85 370.16,648.85 372.21,648.66 374.26,647.26 376.31,645.38 378.36,642.40 380.41,640.11 382.47,638.92 384.52,640.61 386.57,643.89 388.62,646.47 390.67,648.16 392.72,648.85 394.77,648.85 396.82,648.66 398.87,647.26 400.93,645.38 402.98,642.40 405.03,640.11 407.08,638.92 409.13,640.61 411.18,643.89 413.23,646.47 415.28,648.16 417.33,648.85 419.39,648.85 421.44,648.66 423.49,647.26 425.54,645.38 427.59,642.40 429.64,640.11 431.69,638.92 433.74,640.61 435.79,643.89 437.84,646.47 439.90,648.16 441.95,648.85 444.00,648.85 446.05,648.66 448.10,647.26 450.15,645.38 452.20,642.40 454.25,640.11 456.30,638.92 458.36,640.61 460.41,643.89 462.46,646.47 464.51,648.16 466.56,648.85 468.61,648.85 470.66,648.66 472.71,647.26 474.76,645.38 476.82,642.40 478.87,640.11 480.92,638.92 482.97,640.61 485.02,643.89 487.07,646.47 489.12,648.16 491.17,648.85 493.22,648.85 495.28,648.66 497.33,647.26 499.38,645.38 501.43,642.40 503.48,640.11 505.53,638.92 507.58,640.61 509.63,643.89 511.68,646.47 513.74,648.16 515.79,648.85 517.84,648.85 519.89,648.66 521.94,647.26 523.99,645.38 526.04,642.40 528.09,640.11 530.14,638.92 532.20,640.61 534.25,643.89 536.30,646.47 538.35,648.16 540.40,648.85" fill="none" stroke="#1f861f" stroke-width="1.0" stroke-linejoin="round" opacity="0.85"/>
<polyline points="75.00,560.17 76.85,561.84 79.00,563.89 80.95,565.67 83.00,571.35 85.06,571.27 87.00,574.45 89.16,570.79 91.00,566.38 93.26,564.78 95.90,562.03 97.36,563.66 98.90,563.89 101.90,557.68 103.52,560.25 104.90,563.89 107.62,568.86 109.67,571.46 111.80,576.31 113.77,573.64 115.80,565.76 117.87,562.33 120.80,562.65 121.98,563.62 123.40,564.51 126.40,559.54 128.13,561.77 129.80,565.76 132.23,570.10 134.28,573.94 136.70,577.56 138.38,573.00 140.70,568.24 142.49,565.78 144.54,565.66 145.70,564.51 148.00,566.38 150.70,560.17 152.74,564.50 154.70,568.24 156.84,570.58 158.90,575.85 161.60,578.80 163.00,577.61 165.60,569.48 167.10,568.01 169.15,568.19 170.60,566.38 173.00,568.24 175.60,563.89 177.36,569.79 178.60,569.48 181.46,574.14 183.51,576.22 186.10,578.80 187.61,576.91 190.10,569.48 191.71,570.61 194.50,567.00 195.81,567.76 197.50,568.86 200.10,562.65 201.97,565.18 203.50,569.48 206.07,573.73 208.12,577.57 210.40,580.04 212.22,575.55 214.40,571.35 216.33,569.17 218.38,569.28 219.40,568.24 220.43,568.23 222.00,570.10 224.40,563.89 226.58,566.53 228.40,571.35 230.68,574.92 232.73,578.70 235.30,581.28 236.84,577.47 239.30,572.59 240.94,571.23 243.30,570.10 245.04,569.28 246.50,571.35 249.30,566.38 251.19,572.05 252.30,572.59 253.25,574.86 255.30,578.08 257.35,582.27 259.80,583.46 261.45,579.99 264.00,575.07 265.55,572.83 267.80,571.35 269.65,574.00 272.00,575.07 273.76,574.27 276.00,577.56 277.86,578.80 279.91,581.68 281.96,584.59 284.10,587.87 286.06,582.99 288.40,580.04 290.17,580.26 292.50,576.31 294.27,577.36 296.00,580.04 298.00,577.56 300.42,580.49 302.00,583.77 304.52,589.27 306.57,588.89 309.10,592.46 310.68,590.51 312.73,586.13 314.78,584.82 316.20,582.15 318.88,582.00 320.00,581.90 320.93,580.73 323.30,579.42 325.03,583.41 326.00,583.77 327.09,584.33 329.14,587.91 331.19,589.71 333.50,593.33 335.29,591.57 337.34,586.55 339.39,584.37 341.60,582.15 343.49,583.45 344.50,583.77 345.55,582.09 347.70,581.28 350.50,585.01 351.70,585.04 353.75,587.31 355.80,594.90 357.90,595.82 359.90,591.97 361.95,589.83 364.01,587.89 366.00,585.13 369.00,586.87 370.16,587.55 372.10,585.01 374.26,585.89 375.20,588.74 376.31,591.75 378.36,591.63 380.41,593.00 382.70,597.43 384.52,597.21 386.57,592.73 388.62,591.39 390.40,587.24 393.60,588.74 394.77,587.30 396.90,585.63 398.87,586.33 400.00,589.98 400.93,588.35 402.98,596.06 405.03,596.93 407.70,599.42 409.13,596.68 411.18,592.94 413.23,591.97 415.80,589.36 417.33,591.17 418.80,590.91 422.00,588.74 423.49,590.18 425.00,592.46 427.59,595.79 429.64,598.67 432.10,601.53 433.74,600.57 435.79,596.58 437.84,594.24 440.20,591.84 441.95,592.69 443.20,593.08 446.30,590.35 448.10,592.89 449.50,594.32 452.20,599.49 454.25,600.98 456.50,603.14 458.36,599.19 460.41,598.55 462.46,597.71 464.60,593.08 466.56,592.59 467.80,595.26 470.80,594.32 472.71,595.18 473.80,596.81 474.76,594.97 476.82,599.99 478.87,602.94 480.90,604.51 482.97,604.04 485.02,597.84 487.07,593.71 489.00,594.95 492.00,596.50 493.22,596.31 495.20,593.08 497.33,596.95 498.30,597.43 499.38,597.70 501.43,601.72 503.48,603.03 506.30,605.50 507.58,604.37 509.63,601.04 511.68,597.23 513.50,596.44 516.50,597.74 517.84,596.88 519.60,595.82 522.70,599.91 523.99,599.95 526.04,603.82 528.09,604.84 530.80,607.99 532.20,609.43 534.25,606.32 536.30,601.08 538.90,599.42 541.00,598.67" fill="none" stroke="#ff3030" stroke-width="1.0" stroke-linejoin="round" opacity="0.85"/>
</g>
<path d="M74.80,649.6v-11M74.80,475.7v11M87.11,649.6v-5.5M87.11,475.7v5.5M99.41,649.6v-11M99.41,475.7v11M111.72,649.6v-5.5M111.72,475.7v5.5M124.03,649.6v-11M124.03,475.7v11M136.33,649.6v-5.5M136.33,475.7v5.5M148.64,649.6v-11M148.64,475.7v11M160.95,649.6v-5.5M160.95,475.7v5.5M173.25,649.6v-11M173.25,475.7v11M185.56,649.6v-5.5M185.56,475.7v5.5M197.87,649.6v-11M197.87,475.7v11M210.17,649.6v-5.5M210.17,475.7v5.5M222.48,649.6v-11M222.48,475.7v11M234.79,649.6v-5.5M234.79,475.7v5.5M247.09,649.6v-11M247.09,475.7v11M259.40,649.6v-5.5M259.40,475.7v5.5M271.71,649.6v-11M271.71,475.7v11M284.01,649.6v-5.5M284.01,475.7v5.5M296.32,649.6v-11M296.32,475.7v11M308.63,649.6v-5.5M308.63,475.7v5.5M320.93,649.6v-11M320.93,475.7v11M333.24,649.6v-5.5M333.24,475.7v5.5M345.55,649.6v-11M345.55,475.7v11M357.85,649.6v-5.5M357.85,475.7v5.5M370.16,649.6v-11M370.16,475.7v11M382.47,649.6v-5.5M382.47,475.7v5.5M394.77,649.6v-11M394.77,475.7v11M407.08,649.6v-5.5M407.08,475.7v5.5M419.39,649.6v-11M419.39,475.7v11M431.69,649.6v-5.5M431.69,475.7v5.5M444.00,649.6v-11M444.00,475.7v11M456.30,649.6v-5.5M456.30,475.7v5.5M468.61,649.6v-11M468.61,475.7v11M480.92,649.6v-5.5M480.92,475.7v5.5M493.22,649.6v-11M493.22,475.7v11M505.53,649.6v-5.5M505.53,475.7v5.5M517.84,649.6v-11M517.84,475.7v11M530.14,649.6v-5.5M530.14,475.7v5.5M74.8,649.60h11.5M540.4,649.60h-11.5M74.8,643.39h6M540.4,643.39h-6M74.8,637.18h6M540.4,637.18h-6M74.8,630.97h6M540.4,630.97h-6M74.8,624.76h11.5M540.4,624.76h-11.5M74.8,618.55h6M540.4,618.55h-6M74.8,612.34h6M540.4,612.34h-6M74.8,606.12h6M540.4,606.12h-6M74.8,599.91h11.5M540.4,599.91h-11.5M74.8,593.70h6M540.4,593.70h-6M74.8,587.49h6M540.4,587.49h-6M74.8,581.28h6M540.4,581.28h-6M74.8,575.07h11.5M540.4,575.07h-11.5M74.8,568.86h6M540.4,568.86h-6M74.8,562.65h6M540.4,562.65h-6M74.8,556.44h6M540.4,556.44h-6M74.8,550.23h11.5M540.4,550.23h-11.5M74.8,544.02h6M540.4,544.02h-6M74.8,537.81h6M540.4,537.81h-6M74.8,531.60h6M540.4,531.60h-6M74.8,525.39h11.5M540.4,525.39h-11.5M74.8,519.17h6M540.4,519.17h-6M74.8,512.96h6M540.4,512.96h-6M74.8,506.75h6M540.4,506.75h-6M74.8,500.54h11.5M540.4,500.54h-11.5M74.8,494.33h6M540.4,494.33h-6M74.8,488.12h6M540.4,488.12h-6M74.8,481.91h6M540.4,481.91h-6M74.8,475.70h11.5M540.4,475.70h-11.5" stroke="#000" stroke-width="1.1" fill="none"/>
<rect x="74.8" y="475.7" width="465.59999999999997" height="173.90000000000003" fill="none" stroke="#000" stroke-width="1.4"/>
<rect x="79.2" y="480.3" width="24.60" height="25.50" fill="#fff" stroke="#555" stroke-width="1.1"/>
<text x="91.50" y="499.5" class="let" text-anchor="middle">c</text>
<text x="73.10" y="464.5" class="ttl">Europe NOx Emissions</text>
<text x="64.20" y="655.60" class="tl" text-anchor="end">0</text>
<text x="64.20" y="630.76" class="tl" text-anchor="end">40</text>
<text x="64.20" y="605.91" class="tl" text-anchor="end">80</text>
<text x="64.20" y="581.07" class="tl" text-anchor="end">120</text>
<text x="64.20" y="556.23" class="tl" text-anchor="end">160</text>
<text x="64.20" y="531.39" class="tl" text-anchor="end">200</text>
<text x="64.20" y="506.54" class="tl" text-anchor="end">240</text>
<text x="64.20" y="481.70" class="tl" text-anchor="end">280</text>
<text transform="translate(86.40,655.30) rotate(-90)" class="tl" text-anchor="end">2000</text>
<text transform="translate(111.01,655.30) rotate(-90)" class="tl" text-anchor="end">2001</text>
<text transform="translate(135.63,655.30) rotate(-90)" class="tl" text-anchor="end">2002</text>
<text transform="translate(160.24,655.30) rotate(-90)" class="tl" text-anchor="end">2003</text>
<text transform="translate(184.85,655.30) rotate(-90)" class="tl" text-anchor="end">2004</text>
<text transform="translate(209.47,655.30) rotate(-90)" class="tl" text-anchor="end">2005</text>
<text transform="translate(234.08,655.30) rotate(-90)" class="tl" text-anchor="end">2006</text>
<text transform="translate(258.69,655.30) rotate(-90)" class="tl" text-anchor="end">2007</text>
<text transform="translate(283.31,655.30) rotate(-90)" class="tl" text-anchor="end">2008</text>
<text transform="translate(307.92,655.30) rotate(-90)" class="tl" text-anchor="end">2009</text>
<text transform="translate(332.53,655.30) rotate(-90)" class="tl" text-anchor="end">2010</text>
<text transform="translate(357.15,655.30) rotate(-90)" class="tl" text-anchor="end">2011</text>
<text transform="translate(381.76,655.30) rotate(-90)" class="tl" text-anchor="end">2012</text>
<text transform="translate(406.37,655.30) rotate(-90)" class="tl" text-anchor="end">2013</text>
<text transform="translate(430.99,655.30) rotate(-90)" class="tl" text-anchor="end">2014</text>
<text transform="translate(455.60,655.30) rotate(-90)" class="tl" text-anchor="end">2015</text>
<text transform="translate(480.21,655.30) rotate(-90)" class="tl" text-anchor="end">2016</text>
<text transform="translate(504.82,655.30) rotate(-90)" class="tl" text-anchor="end">2017</text>
<text transform="translate(529.44,655.30) rotate(-90)" class="tl" text-anchor="end">2018</text>
<text x="307.60" y="715.20" class="ax" text-anchor="middle">Years</text>
<text transform="translate(25.20,562.50) rotate(-90)" class="ax yl" text-anchor="middle">Emissions (Kg (N) s<tspan class="sup" dx="0.3" dy="-8.5">-1</tspan><tspan dx="0.6" dy="8.5">)</tspan></text>
<g clip-path="url(#clipd)">
<polyline points="713.10,648.37 715.15,648.17 717.20,648.58 719.25,648.51 721.30,648.25 723.35,647.20 725.40,642.50 727.45,636.45 729.50,641.23 731.55,645.67 733.60,647.97 735.65,648.21 737.70,648.31 739.75,648.07 741.80,648.59 743.85,648.02 745.90,648.64 747.95,647.28 750.00,644.46 752.05,640.54 754.10,643.63 756.15,646.87 758.20,648.25 760.24,648.45 762.29,648.52 764.34,648.36 766.39,648.06 768.44,648.57 770.49,648.30 772.54,648.08 774.59,646.01 776.64,644.31 778.69,646.05 780.74,647.69 782.79,648.06 784.84,648.52 786.89,648.26 788.94,648.16 790.99,648.58 793.04,648.26 795.09,648.23 797.14,647.70 799.19,645.00 801.24,642.73 803.29,644.76 805.34,647.49 807.39,648.36 809.44,647.93 811.49,648.58 813.54,648.57 815.59,648.31 817.64,648.23 819.69,648.39 821.74,647.74 823.79,646.37 825.84,644.01 827.89,645.52 829.94,647.59 831.99,647.54 834.04,648.43 836.09,648.35 838.14,648.36 840.19,648.44 842.24,648.64 844.29,648.17 846.34,648.00 848.39,646.42 850.44,644.31 852.49,645.83 854.53,647.66 856.58,648.39 858.63,648.58 860.68,648.63 862.73,648.35 864.78,648.33 866.83,648.18 868.88,648.22 870.93,647.74 872.98,646.44 875.03,644.81 877.08,646.07 879.13,647.50 881.18,648.33 883.23,648.28 885.28,648.19 887.33,648.44 889.38,648.22 891.43,648.55 893.48,648.67 895.53,647.98 897.58,646.47 899.63,643.82 901.68,645.87 903.73,647.33 905.78,647.77 907.83,648.59 909.88,648.54 911.93,648.57 913.98,648.50 916.03,648.49 918.08,648.40 920.13,648.03 922.18,646.75 924.23,644.80 926.28,646.40 928.33,647.21 930.38,648.30 932.43,648.08 934.48,648.02 936.53,648.54 938.58,648.32 940.63,648.33 942.68,648.66 944.73,648.14 946.77,647.19 948.82,645.81 950.87,647.16 952.92,647.77 954.97,648.42 957.02,648.51 959.07,647.97 961.12,648.22 963.17,648.57 965.22,648.55 967.27,648.27 969.32,647.91 971.37,647.11 973.42,645.40 975.47,646.61 977.52,648.03 979.57,648.24 981.62,648.56 983.67,648.34 985.72,648.50 987.77,648.49 989.82,647.99 991.87,648.44 993.92,648.17 995.97,646.54 998.02,644.60 1000.07,646.31 1002.12,647.63 1004.17,648.25 1006.22,648.09 1008.27,648.66 1010.32,648.12 1012.37,647.94 1014.42,648.26 1016.47,648.27 1018.52,647.48 1020.57,645.86 1022.62,642.40 1024.67,645.16 1026.72,647.36 1028.77,647.80 1030.82,648.37 1032.87,648.57 1034.92,648.57 1036.97,648.53 1039.01,648.33 1041.06,648.59 1043.11,647.89 1045.16,646.88 1047.21,645.22 1049.26,646.38 1051.31,648.00 1053.36,648.25 1055.41,648.43 1057.46,648.04 1059.51,647.94 1061.56,648.33 1063.61,648.31 1065.66,648.33 1067.71,647.87 1069.76,646.54 1071.81,645.98 1073.86,647.03 1075.91,647.93 1077.96,648.50 1080.01,648.58 1082.06,648.65 1084.11,647.98 1086.16,647.86 1088.21,648.47 1090.26,648.32 1092.31,647.44 1094.36,647.37 1096.41,646.59 1098.46,647.54 1100.51,648.12 1102.56,648.19 1104.61,648.52 1106.66,648.34 1108.71,648.48 1110.76,648.58 1112.81,647.97 1114.86,648.66 1116.91,647.87 1118.96,647.04 1121.01,645.64 1123.06,646.98 1125.11,647.39 1127.16,648.33 1129.21,648.67 1131.26,648.23 1133.30,648.29 1135.35,648.42 1137.40,648.37 1139.45,648.41 1141.50,648.15 1143.55,646.15 1145.60,644.30 1147.65,646.11 1149.70,647.80 1151.75,648.06 1153.80,648.62 1155.85,648.63 1157.90,648.35 1159.95,648.67 1162.00,648.64 1164.05,647.63 1166.10,648.30 1168.15,646.95 1170.20,645.69 1172.25,647.11 1174.30,647.74 1176.35,647.73 1178.40,648.63" fill="none" stroke="#b03838" stroke-width="1.0" stroke-linejoin="round" opacity="0.85"/>
<polyline points="713.10,649.60 715.15,649.28 717.20,646.35 719.25,640.83 721.30,633.36 723.35,620.37 725.40,617.12 727.45,621.99 729.50,636.61 731.55,644.40 733.60,647.65 735.65,648.95 737.70,649.60 739.75,649.23 741.80,645.90 743.85,639.62 745.90,631.12 747.95,616.34 750.00,612.65 752.05,618.19 754.10,634.82 756.15,643.69 758.20,647.38 760.24,648.86 762.29,649.60 764.34,649.24 766.39,645.99 768.44,639.84 770.49,631.53 772.54,617.07 774.59,613.45 776.64,618.88 778.69,635.14 780.74,643.82 782.79,647.43 784.84,648.88 786.89,649.60 788.94,649.19 790.99,645.49 793.04,638.52 795.09,629.07 797.14,612.65 799.19,608.55 801.24,614.71 803.29,633.18 805.34,643.03 807.39,647.14 809.44,648.78 811.49,649.60 813.54,649.26 815.59,646.18 817.64,640.38 819.69,632.52 821.74,618.86 823.79,615.44 825.84,620.56 827.89,635.94 829.94,644.13 831.99,647.55 834.04,648.92 836.09,649.60 838.14,649.24 840.19,645.99 842.24,639.84 844.29,631.53 846.34,617.07 848.39,613.45 850.44,618.88 852.49,635.14 854.53,643.82 856.58,647.43 858.63,648.88 860.68,649.60 862.73,649.14 864.78,645.02 866.83,637.24 868.88,626.71 870.93,608.40 872.98,603.83 875.03,610.69 877.08,631.29 879.13,642.28 881.18,646.85 883.23,648.68 885.28,649.60 887.33,649.21 889.38,645.69 891.43,639.05 893.48,630.07 895.53,614.44 897.58,610.53 899.63,616.39 901.68,633.97 903.73,643.35 905.78,647.26 907.83,648.82 909.88,649.60 911.93,649.25 913.98,646.10 916.03,640.16 918.08,632.12 920.13,618.13 922.18,614.63 924.23,619.88 926.28,635.61 928.33,644.01 930.38,647.50 932.43,648.90 934.48,649.60 936.53,649.23 938.58,645.90 940.63,639.62 942.68,631.12 944.73,616.34 946.77,612.65 948.82,618.19 950.87,634.82 952.92,643.69 954.97,647.38 957.02,648.86 959.07,649.60 961.12,649.16 963.17,645.17 965.22,637.63 967.27,627.43 969.32,609.69 971.37,605.26 973.42,611.91 975.47,631.86 977.52,642.50 979.57,646.94 981.62,648.71 983.67,649.60 985.72,649.25 987.77,646.10 989.82,640.16 991.87,632.12 993.92,618.13 995.97,614.63 998.02,619.88 1000.07,635.61 1002.12,644.01 1004.17,647.50 1006.22,648.90 1008.27,649.60 1010.32,649.18 1012.37,645.37 1014.42,638.18 1016.47,628.45 1018.52,611.53 1020.57,607.31 1022.62,613.65 1024.67,632.68 1026.72,642.83 1028.77,647.06 1030.82,648.75 1032.87,649.60 1034.92,649.19 1036.97,645.45 1039.01,638.40 1041.06,628.86 1043.11,612.26 1045.16,608.11 1047.21,614.34 1049.26,633.00 1051.31,642.96 1053.36,647.11 1055.41,648.77 1057.46,649.60 1059.51,649.22 1061.56,645.78 1063.61,639.29 1065.66,630.50 1067.71,615.22 1069.76,611.40 1071.81,617.13 1073.86,634.32 1075.91,643.49 1077.96,647.31 1080.01,648.84 1082.06,649.60 1084.11,649.15 1086.16,645.08 1088.21,637.41 1090.26,627.02 1092.31,608.96 1094.36,604.45 1096.41,611.22 1098.46,631.54 1100.51,642.38 1102.56,646.89 1104.61,648.70 1106.66,649.60 1108.71,649.19 1110.76,645.53 1112.81,638.62 1114.86,629.26 1116.91,612.99 1118.96,608.92 1121.01,615.02 1123.06,633.33 1125.11,643.09 1127.16,647.16 1129.21,648.79 1131.26,649.60 1133.30,649.21 1135.35,645.73 1137.40,639.15 1139.45,630.25 1141.50,614.78 1143.55,610.91 1145.60,616.71 1147.65,634.12 1149.70,643.41 1151.75,647.28 1153.80,648.83 1155.85,649.60 1157.90,649.18 1159.95,645.37 1162.00,638.18 1164.05,628.45 1166.10,611.53 1168.15,607.31 1170.20,613.65 1172.25,632.68 1174.30,642.83 1176.35,647.06 1178.40,648.75" fill="none" stroke="#1f861f" stroke-width="1.0" stroke-linejoin="round" opacity="0.85"/>
<polyline points="713.00,585.01 714.10,586.56 715.15,587.16 717.20,592.55 719.50,594.32 721.30,596.49 723.35,599.94 725.30,602.83 727.45,597.94 729.30,594.95 731.55,590.16 733.40,586.56 736.50,588.42 737.70,586.75 740.10,586.13 741.80,589.60 743.85,594.08 745.00,596.19 747.95,601.32 750.30,605.94 752.05,602.10 754.40,597.43 756.15,593.95 758.40,589.05 760.24,590.28 761.50,590.91 764.50,589.67 766.39,592.65 768.44,596.28 769.60,598.67 772.54,604.26 774.70,607.93 776.64,604.22 778.70,599.91 780.74,596.70 782.80,591.65 784.84,592.00 785.80,593.39 786.89,592.89 788.90,591.65 790.99,594.63 793.04,598.66 794.00,600.54 795.09,601.36 797.14,604.94 799.10,608.92 801.24,604.61 803.10,601.16 805.34,596.35 807.20,593.70 809.44,595.23 810.50,595.26 811.49,594.48 813.70,594.76 815.59,598.55 817.64,600.97 818.80,603.02 821.74,607.03 823.90,610.91 825.84,607.36 828.00,603.64 829.94,600.00 832.00,595.75 834.04,596.87 835.00,596.81 836.09,596.61 838.10,595.75 840.19,598.71 842.24,602.21 843.20,604.26 844.29,606.18 846.34,610.04 848.30,612.65 850.44,608.27 852.40,604.88 854.53,601.79 856.40,597.74 859.40,598.67 860.68,598.14 862.50,596.75 864.78,601.03 867.60,605.50 868.88,607.28 870.93,610.95 872.70,614.01 875.03,609.30 876.80,606.12 879.13,601.68 880.80,598.73 883.80,599.91 885.28,599.21 886.90,597.74 889.38,601.55 892.00,606.12 893.48,607.81 895.53,611.84 897.50,615.01 899.63,610.72 901.60,607.37 903.73,603.73 905.60,600.41 908.50,601.16 909.88,600.28 911.30,600.41 913.98,604.22 916.03,607.29 917.00,609.23 918.08,610.60 920.13,612.90 922.50,617.12 924.23,613.71 926.60,608.61 928.33,605.51 930.70,600.85 932.43,602.00 933.80,602.40 936.80,602.83 938.58,605.72 941.40,611.09 942.68,613.69 944.73,617.39 946.10,619.54 948.82,613.57 950.20,611.09 952.92,605.57 954.20,603.83 957.20,603.02 959.07,601.16 960.30,600.41 963.17,607.06 965.40,609.85 967.27,613.72 969.32,617.50 970.50,619.11 973.42,614.10 975.00,610.47 977.52,606.58 979.70,602.83 981.62,602.43 982.80,603.64 985.80,604.45 987.77,608.09 990.60,612.96 991.87,615.52 993.92,618.36 995.30,621.09 998.02,616.41 999.70,613.58 1002.12,609.63 1004.10,606.50 1006.22,606.84 1007.20,606.50 1008.27,606.50 1010.20,606.50 1012.37,609.89 1015.20,614.82 1016.47,617.84 1018.52,621.03 1020.30,623.14 1022.62,618.25 1024.40,615.44 1026.72,610.78 1028.50,607.93 1031.50,607.37 1032.87,607.24 1034.60,606.50 1036.97,611.15 1039.70,615.44 1041.06,617.91 1043.11,621.97 1044.70,624.14 1047.21,619.89 1049.30,616.06 1051.31,611.68 1053.90,607.93 1055.41,608.26 1056.50,608.61 1057.46,608.15 1059.00,608.92 1061.56,613.33 1064.00,617.30 1065.66,619.69 1067.71,622.36 1069.10,625.19 1071.81,621.05 1073.20,617.93 1075.91,613.21 1077.30,610.53 1080.30,609.85 1082.06,609.40 1083.40,608.92 1086.16,613.41 1088.40,617.30 1090.26,619.57 1092.31,623.34 1093.50,625.63 1096.41,621.13 1097.60,618.24 1100.51,613.17 1101.70,610.91 1104.70,611.09 1106.66,611.18 1107.80,610.53 1108.71,612.34 1110.76,613.92 1113.20,618.55 1114.86,621.42 1116.91,623.67 1118.60,626.19 1121.01,622.42 1122.70,619.17 1125.11,614.44 1126.70,612.03 1129.80,610.78 1131.26,609.91 1132.80,609.35 1135.35,613.42 1138.10,617.93 1139.45,620.07 1141.50,622.67 1143.40,626.19 1145.60,622.88 1147.50,619.17 1149.70,615.59 1151.50,612.03 1154.50,611.40 1155.85,611.58 1157.60,610.53 1159.95,613.72 1162.50,618.55 1164.05,621.11 1166.10,624.68 1167.40,626.19 1170.20,622.23 1171.70,619.79 1174.30,614.36 1175.90,613.02 1178.00,612.34" fill="none" stroke="#ff3030" stroke-width="1.0" stroke-linejoin="round" opacity="0.85"/>
</g>
<path d="M713.10,649.6v-11M713.10,475.7v11M725.40,649.6v-5.5M725.40,475.7v5.5M737.70,649.6v-11M737.70,475.7v11M750.00,649.6v-5.5M750.00,475.7v5.5M762.29,649.6v-11M762.29,475.7v11M774.59,649.6v-5.5M774.59,475.7v5.5M786.89,649.6v-11M786.89,475.7v11M799.19,649.6v-5.5M799.19,475.7v5.5M811.49,649.6v-11M811.49,475.7v11M823.79,649.6v-5.5M823.79,475.7v5.5M836.09,649.6v-11M836.09,475.7v11M848.39,649.6v-5.5M848.39,475.7v5.5M860.68,649.6v-11M860.68,475.7v11M872.98,649.6v-5.5M872.98,475.7v5.5M885.28,649.6v-11M885.28,475.7v11M897.58,649.6v-5.5M897.58,475.7v5.5M909.88,649.6v-11M909.88,475.7v11M922.18,649.6v-5.5M922.18,475.7v5.5M934.48,649.6v-11M934.48,475.7v11M946.77,649.6v-5.5M946.77,475.7v5.5M959.07,649.6v-11M959.07,475.7v11M971.37,649.6v-5.5M971.37,475.7v5.5M983.67,649.6v-11M983.67,475.7v11M995.97,649.6v-5.5M995.97,475.7v5.5M1008.27,649.6v-11M1008.27,475.7v11M1020.57,649.6v-5.5M1020.57,475.7v5.5M1032.87,649.6v-11M1032.87,475.7v11M1045.16,649.6v-5.5M1045.16,475.7v5.5M1057.46,649.6v-11M1057.46,475.7v11M1069.76,649.6v-5.5M1069.76,475.7v5.5M1082.06,649.6v-11M1082.06,475.7v11M1094.36,649.6v-5.5M1094.36,475.7v5.5M1106.66,649.6v-11M1106.66,475.7v11M1118.96,649.6v-5.5M1118.96,475.7v5.5M1131.26,649.6v-11M1131.26,475.7v11M1143.55,649.6v-5.5M1143.55,475.7v5.5M1155.85,649.6v-11M1155.85,475.7v11M1168.15,649.6v-5.5M1168.15,475.7v5.5M713.1,649.60h11.5M1178.4,649.60h-11.5M713.1,643.39h6M1178.4,643.39h-6M713.1,637.18h6M1178.4,637.18h-6M713.1,630.97h6M1178.4,630.97h-6M713.1,624.76h11.5M1178.4,624.76h-11.5M713.1,618.55h6M1178.4,618.55h-6M713.1,612.34h6M1178.4,612.34h-6M713.1,606.12h6M1178.4,606.12h-6M713.1,599.91h11.5M1178.4,599.91h-11.5M713.1,593.70h6M1178.4,593.70h-6M713.1,587.49h6M1178.4,587.49h-6M713.1,581.28h6M1178.4,581.28h-6M713.1,575.07h11.5M1178.4,575.07h-11.5M713.1,568.86h6M1178.4,568.86h-6M713.1,562.65h6M1178.4,562.65h-6M713.1,556.44h6M1178.4,556.44h-6M713.1,550.23h11.5M1178.4,550.23h-11.5M713.1,544.02h6M1178.4,544.02h-6M713.1,537.81h6M1178.4,537.81h-6M713.1,531.60h6M1178.4,531.60h-6M713.1,525.39h11.5M1178.4,525.39h-11.5M713.1,519.17h6M1178.4,519.17h-6M713.1,512.96h6M1178.4,512.96h-6M713.1,506.75h6M1178.4,506.75h-6M713.1,500.54h11.5M1178.4,500.54h-11.5M713.1,494.33h6M1178.4,494.33h-6M713.1,488.12h6M1178.4,488.12h-6M713.1,481.91h6M1178.4,481.91h-6M713.1,475.70h11.5M1178.4,475.70h-11.5" stroke="#000" stroke-width="1.1" fill="none"/>
<rect x="713.1" y="475.7" width="465.30000000000007" height="173.90000000000003" fill="none" stroke="#000" stroke-width="1.4"/>
<rect x="717.4" y="480.0" width="25.00" height="29.80" fill="#fff" stroke="#555" stroke-width="1.1"/>
<text x="729.90" y="502.7" class="let" text-anchor="middle">d</text>
<text x="711.40" y="464.5" class="ttl">Europe NMVOC Emissions</text>
<text x="702.50" y="655.60" class="tl" text-anchor="end">0</text>
<text x="702.50" y="630.76" class="tl" text-anchor="end">400</text>
<text x="702.50" y="605.91" class="tl" text-anchor="end">800</text>
<text x="702.50" y="581.07" class="tl" text-anchor="end">1200</text>
<text x="702.50" y="556.23" class="tl" text-anchor="end">1600</text>
<text x="702.50" y="531.39" class="tl" text-anchor="end">2000</text>
<text x="702.50" y="506.54" class="tl" text-anchor="end">2400</text>
<text x="702.50" y="481.70" class="tl" text-anchor="end">2800</text>
<text transform="translate(724.70,655.30) rotate(-90)" class="tl" text-anchor="end">2000</text>
<text transform="translate(749.30,655.30) rotate(-90)" class="tl" text-anchor="end">2001</text>
<text transform="translate(773.89,655.30) rotate(-90)" class="tl" text-anchor="end">2002</text>
<text transform="translate(798.49,655.30) rotate(-90)" class="tl" text-anchor="end">2003</text>
<text transform="translate(823.09,655.30) rotate(-90)" class="tl" text-anchor="end">2004</text>
<text transform="translate(847.69,655.30) rotate(-90)" class="tl" text-anchor="end">2005</text>
<text transform="translate(872.28,655.30) rotate(-90)" class="tl" text-anchor="end">2006</text>
<text transform="translate(896.88,655.30) rotate(-90)" class="tl" text-anchor="end">2007</text>
<text transform="translate(921.48,655.30) rotate(-90)" class="tl" text-anchor="end">2008</text>
<text transform="translate(946.08,655.30) rotate(-90)" class="tl" text-anchor="end">2009</text>
<text transform="translate(970.67,655.30) rotate(-90)" class="tl" text-anchor="end">2010</text>
<text transform="translate(995.27,655.30) rotate(-90)" class="tl" text-anchor="end">2011</text>
<text transform="translate(1019.87,655.30) rotate(-90)" class="tl" text-anchor="end">2012</text>
<text transform="translate(1044.47,655.30) rotate(-90)" class="tl" text-anchor="end">2013</text>
<text transform="translate(1069.06,655.30) rotate(-90)" class="tl" text-anchor="end">2014</text>
<text transform="translate(1093.66,655.30) rotate(-90)" class="tl" text-anchor="end">2015</text>
<text transform="translate(1118.26,655.30) rotate(-90)" class="tl" text-anchor="end">2016</text>
<text transform="translate(1142.86,655.30) rotate(-90)" class="tl" text-anchor="end">2017</text>
<text transform="translate(1167.45,655.30) rotate(-90)" class="tl" text-anchor="end">2018</text>
<text x="945.75" y="715.20" class="ax" text-anchor="middle">Years</text>
<text transform="translate(655.40,562.50) rotate(-90)" class="ax yl" text-anchor="middle">Emissions (Kg (C) s<tspan class="sup" dx="0.3" dy="-8.5">-1</tspan><tspan dx="0.6" dy="8.5">)</tspan></text>
</svg></div>
</body></html>
